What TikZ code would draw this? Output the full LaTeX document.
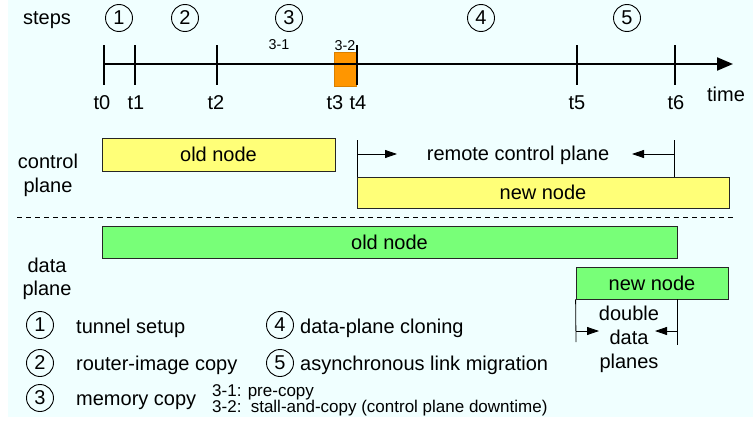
\documentclass[tikz,border=0pt]{standalone}
\usepackage{fontspec}
\setmainfont{Liberation Sans}
\usetikzlibrary{arrows.meta}
\definecolor{bgc}{RGB}{240,255,255}
\definecolor{ycol}{RGB}{255,255,120}
\definecolor{gcol}{RGB}{120,255,120}
\definecolor{ocol}{RGB}{255,150,0}
\begin{document}
\begin{tikzpicture}[x=1pt,y=-1pt,
  every node/.style={inner sep=0pt, font=\fontsize{20}{24}\selectfont},
  num/.style={circle, draw, line width=0.9pt, minimum size=27pt, inner sep=0pt},
  box/.style={draw=black!85, line width=0.8pt},
  ybox/.style={box, fill=ycol},
  gbox/.style={box, fill=gcol},
  axisline/.style={line width=2pt},
  fineline/.style={line width=0.8pt},
  smalltop/.style={font=\fontsize{14.3}{17}\selectfont},
  smallleg/.style={font=\fontsize{17}{20}\selectfont},
  tipst/.style={-{Triangle[length=12pt,width=8pt]}},
]
\useasboundingbox (0,0) rectangle (753,423);
\fill[bgc] (8,0) rectangle (753,417);

% ---- timeline ----
\coordinate (t0) at (104,64);
\coordinate (t1) at (135,64);
\coordinate (t2) at (217,64);
\coordinate (t3) at (334,64);
\coordinate (t4) at (357,64);
\coordinate (t5) at (577,64);
\coordinate (t6) at (675,64);
\coordinate (tend) at (733,64);
\node[fill=ocol, draw=ocol!85!black, line width=0.4pt, minimum width=22pt, minimum height=34pt, anchor=north west] (ob) at (334,52) {};
\draw[axisline, -{Triangle[length=16pt,width=13pt]}] (t0) -- (tend);
\foreach \t in {t0,t1,t2,t4,t5,t6}
  \draw[axisline] ([yshift=19pt]\t) -- ([yshift=-21pt]\t);

\node[anchor=base] (lt0) at (102,109) {t0};
\node[anchor=base] (lt1) at (136,109) {t1};
\node[anchor=base] (lt2) at (216,109) {t2};
\node[anchor=base] (lt3) at (335,109) {t3};
\node[anchor=base] (lt4) at (358,109) {t4};
\node[anchor=base] (lt5) at (577,109) {t5};
\node[anchor=base] (lt6) at (676,109) {t6};
\node[anchor=base] (ltime) at (726,101) {time};

\node[anchor=base] (steps) at (47,24) {steps};
\node[num] (s1) at (119,18) {1};
\node[num] (s2) at (185,18) {2};
\node[num] (s3) at (289,18) {3};
\node[num] (s4) at (481,18) {4};
\node[num] (s5) at (627,18) {5};
\node[smalltop, anchor=base] (s31) at (279,49) {3-1};
\node[smalltop, anchor=base] (s32) at (345,50) {3-2};

% ---- control plane ----
\node[anchor=base] (cp1) at (48,168) {control};
\node[anchor=base] (cp2) at (48,192) {plane};
\node[ybox, minimum width=233pt, minimum height=33pt] (cold) at (218.5,154.5) {old node};
\node[ybox, minimum width=372pt, minimum height=31pt] (cnew) at (543,192.5) {new node};
\coordinate (rl) at (357,140);
\coordinate (rr) at (674,140);
\coordinate (rla) at (357,154);
\coordinate (rlb) at (397,154);
\coordinate (rra) at (674,154);
\coordinate (rrb) at (632,154);
\draw[fineline] (rl) -- (rl |- cnew.north);
\draw[fineline] (rr) -- (rr |- cnew.north);
\draw[fineline, tipst] (rla) -- (rlb);
\draw[fineline, tipst] (rra) -- (rrb);
\node[anchor=base] (rcp) at (518,160) {remote control plane};

% ---- separator ----
\coordinate (dl) at (17,217);
\coordinate (dr) at (735,217);
\draw[fineline, dash pattern=on 5pt off 4pt] (dl) -- (dr);

% ---- data plane ----
\node[anchor=base] (dp1) at (47,272) {data};
\node[anchor=base] (dp2) at (47,295) {plane};
\node[gbox, minimum width=575pt, minimum height=32pt] (dold) at (389.5,242) {old node};
\node[gbox, minimum width=152pt, minimum height=32pt] (dnew) at (652,283) {new node};
\coordinate (dva) at (576,342);
\coordinate (dvb1) at (677,299);
\coordinate (dvb2) at (677,345);
\coordinate (da1) at (576,331);
\coordinate (da2) at (599,331);
\coordinate (db1) at (677,331);
\coordinate (db2) at (655,331);
\draw[fineline] (dnew.south west) -- (dva);
\draw[fineline] (dvb1) -- (dvb2);
\draw[fineline, tipst] (da1) -- (da2);
\draw[fineline, tipst] (db1) -- (db2);
\node[anchor=base] (dd1) at (629,320) {double};
\node[anchor=base] (dd2) at (629,344) {data};
\node[anchor=base] (dd3) at (629,368) {planes};

% ---- legend ----
\node[num] (g1) at (40,325) {1};
\node[num] (g2) at (40,363) {2};
\node[num] (g3) at (40,398) {3};
\node[num] (g4) at (280,325) {4};
\node[num] (g5) at (280,363) {5};
\node[anchor=base west] (gt1) at (76,333) {tunnel setup};
\node[anchor=base west] (gt2) at (76,370) {router-image copy};
\node[anchor=base west] (gt3) at (76,405) {memory copy};
\node[anchor=base west] (gt4) at (300,333) {data-plane cloning};
\node[anchor=base west] (gt5) at (300,370) {asynchronous link migration};
\node[smallleg, anchor=base west] (gt31) at (212,396) {3-1: pre-copy};
\node[smallleg, anchor=base west] (gt32) at (212,412) {3-2:\hspace{3pt} stall-and-copy (control plane downtime)};
\end{tikzpicture}
\end{document}
